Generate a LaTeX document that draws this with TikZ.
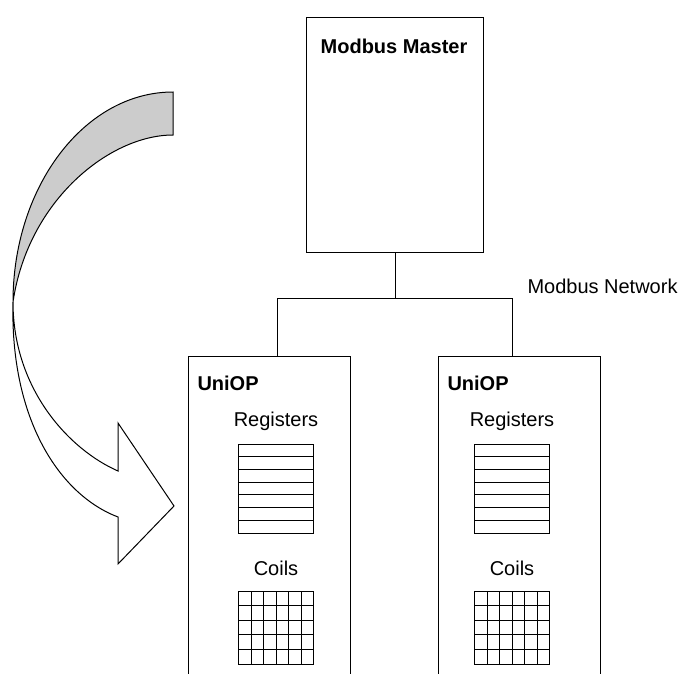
\documentclass[tikz,border=0pt]{standalone}
\usepackage{fontspec}
\setmainfont{Liberation Sans}
\usetikzlibrary{positioning}

\begin{document}
\begin{tikzpicture}[x=1pt,y=-1pt,line width=1pt,
  box/.style={draw,inner sep=0,anchor=north west},
  txt/.style={inner sep=0,font=\fontsize{20}{24}\selectfont},
  btxt/.style={txt,font=\fontsize{20}{24}\selectfont\bfseries}]
\useasboundingbox (0,0) rectangle (681,673);\clip (0,0) rectangle (681,673);
% twisted arrow
\filldraw[fill=black!20] (173,92) .. controls (85,92) and (13,186) .. (13,302) .. controls (28,200) and (110,135) .. (173,135) -- cycle;
\filldraw[fill=white] (13,302) .. controls (13,390) and (70,450) .. (118,471) -- (118,423) -- (174,506) -- (118,564) -- (118,517) .. controls (60,495) and (10,420) .. (13,302);
% boxes
\node[box,minimum width=177,minimum height=235] (master) at (306,17) {};
\node[box,minimum width=162,minimum height=400] (uniopL) at (188,356) {};
\node[box,minimum width=162,minimum height=400] (uniopR) at (438,356) {};
\node[btxt] (masterlbl) at (394,46) {Modbus Master};
\node[txt,anchor=west] (netlbl) at (527,286) {Modbus Network};
% network
\coordinate (busL) at (277,298);\coordinate (busR) at (512,298);
\draw (master.south) -- (master.south |- busL);
\draw (busL |- uniopL.north) -- (busL) -- (busR) -- (busR |- uniopR.north);
% registers and coils
\foreach \x/\c/\s in {197/276/L,447/512/R}{
  \node[btxt,anchor=west] (uniop\s) at (\x,383) {UniOP};
  \node[txt] (reg\s) at (\c,421) {Registers};
  \node[txt] (coil\s) at (\c,568) {Coils};
  \draw (\c-37.5,444) rectangle (\c+37.5,533);
  \foreach \r in {1,...,6}{\draw (\c-37.5,444+\r*12.714) -- +(75,0);}
  \draw (\c-37.5,591) rectangle (\c+37.5,664);
  \foreach \k in {1,...,5}{\draw (\c-37.5+\k*12.5,591) -- +(0,73);}
  \foreach \r in {1,...,4}{\draw (\c-37.5,591+\r*14.6) -- +(75,0);}
}
\end{tikzpicture}
\end{document}
